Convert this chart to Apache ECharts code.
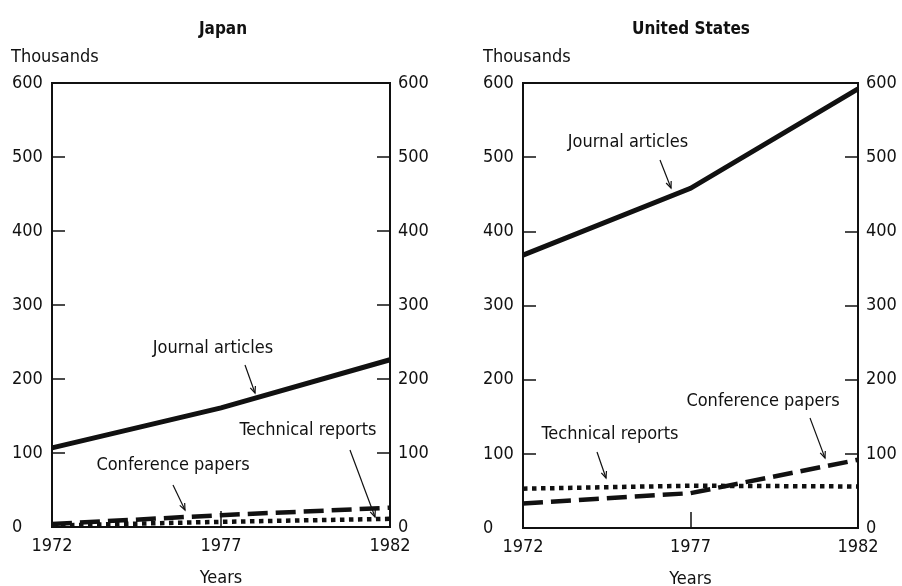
<!DOCTYPE html>
<html>
<head>
<meta charset="utf-8">
<script src="https://cdn.jsdelivr.net/npm/echarts@6/dist/echarts.min.js"></script>
<style>
  html, body { margin: 0; padding: 0; background: #fff; }
  #chart { width: 902px; height: 586px; }
</style>
</head>
<body>
<div id="chart"></div>
<script>
// Publications by type, in thousands
const years = [1972, 1977, 1982];
const yearTicks = [1972, 1977, 1982];

const japanJournal = [107, 161, 226];
const japanConference = [4, 16, 26];
const japanTechnical = [2, 7, 11];

const usJournal = [368, 458, 592];
const usConference = [33, 47, 92];
const usTechnical = [53, 57, 56];

const panelTitles = ['Japan', 'United States'];
const unitLabel = 'Thousands';
const xName = 'Years';

const FONT = '"Liberation Sans Narrow", "DejaVu Sans Condensed", "Roboto Condensed", sans-serif';
const INK = '#111';

const pairs = (vals) => years.map((y, i) => [y, vals[i]]);

const grids = [
  { left: 52, right: 512, top: 83, bottom: 59 },
  { left: 523, right: 44, top: 83, bottom: 58 }
];

function xAxisFor(idx) {
  return {
    type: 'value', gridIndex: idx, min: 1972, max: 1982,
    name: xName, nameLocation: 'middle', nameGap: 42,
    nameTextStyle: { fontFamily: FONT, fontSize: 18, color: INK },
    axisLine: { show: true, lineStyle: { color: INK, width: 2 } },
    axisTick: { show: true, inside: true, length: 16, customValues: yearTicks, lineStyle: { color: INK, width: 1.5 } },
    axisLabel: {
      customValues: yearTicks, fontFamily: FONT, fontSize: 18, color: INK, margin: 10,
      formatter: (v) => String(v)
    },
    splitLine: { show: false }
  };
}

function yAxisFor(idx, side) {
  const left = side === 'left';
  return {
    type: 'value', gridIndex: idx, position: side, min: 0, max: 600, interval: 100,
    axisLine: { show: true, lineStyle: { color: INK, width: 2 } },
    axisTick: { show: true, inside: true, length: 13, lineStyle: { color: INK, width: 1.5 } },
    axisLabel: {
      fontFamily: FONT, fontSize: 18, color: INK,
      align: 'left', margin: left ? 40 : 8
    },
    splitLine: { show: false }
  };
}

function lineSeries(name, idx, vals, kind) {
  const style = { color: INK, width: 5, cap: 'butt', join: 'miter' };
  if (kind === 'dash') { style.type = [20, 8]; style.width = 4.5; }
  if (kind === 'dot') { style.type = [4.5, 4.5]; style.width = 4.5; }
  return {
    name, type: 'line', xAxisIndex: idx, yAxisIndex: idx * 2,
    data: pairs(vals), symbol: 'none', lineStyle: style,
    animation: false, silent: true
  };
}

// Label placements and pointer arrows for each panel
const notes = [
  { text: 'Journal articles',  x: 213, y: 348, from: [245, 365], to: [255, 393] },
  { text: 'Conference papers', x: 173, y: 465, from: [173, 485], to: [185, 510] },
  { text: 'Technical reports', x: 308, y: 430, from: [350, 450], to: [375, 517] },
  { text: 'Journal articles',  x: 628, y: 142, from: [660, 160], to: [671, 188] },
  { text: 'Technical reports', x: 610, y: 434, from: [597, 452], to: [606, 478] },
  { text: 'Conference papers', x: 763, y: 401, from: [810, 418], to: [825, 458] }
];

function arrow(n) {
  const [x1, y1] = n.from, [x2, y2] = n.to;
  const a = Math.atan2(y2 - y1, x2 - x1);
  const h = 7, w = 0.4;
  return [
    { type: 'line', shape: { x1, y1, x2, y2 }, style: { stroke: INK, lineWidth: 1.2 }, silent: true },
    { type: 'polyline', shape: { points: [
        [x2 - h * Math.cos(a - w), y2 - h * Math.sin(a - w)],
        [x2, y2],
        [x2 - h * Math.cos(a + w), y2 - h * Math.sin(a + w)]
      ] }, style: { stroke: INK, lineWidth: 1.2, fill: null }, silent: true }
  ];
}

const graphics = [];
notes.forEach(n => {
  graphics.push({ type: 'text', x: n.x, y: n.y, style: {
    text: n.text, fontFamily: FONT, fontSize: 18, fill: INK,
    textAlign: 'center', textVerticalAlign: 'middle' }, silent: true });
  graphics.push(...arrow(n));
});
[[11, 48], [483, 48]].forEach(([x, y]) => {
  graphics.push({ type: 'text', x, y, style: {
    text: unitLabel, fontFamily: FONT, fontSize: 18, fill: INK, textVerticalAlign: 'top' }, silent: true });
});

const chart = echarts.init(document.getElementById('chart'), null, { renderer: 'canvas' });
chart.setOption({
  animation: false,
  backgroundColor: '#fff',
  title: [
    { text: panelTitles[0], left: 218, top: 16, textAlign: 'center',
      textStyle: { fontFamily: FONT, fontSize: 17, fontWeight: 'bold', color: INK } },
    { text: panelTitles[1], left: 686, top: 16, textAlign: 'center',
      textStyle: { fontFamily: FONT, fontSize: 17, fontWeight: 'bold', color: INK } }
  ],
  grid: grids.map(g => Object.assign({
    show: true, borderColor: INK, borderWidth: 2, backgroundColor: 'transparent',
    containLabel: false, outerBoundsMode: 'none'
  }, g)),
  xAxis: [xAxisFor(0), xAxisFor(1)],
  yAxis: [yAxisFor(0, 'left'), yAxisFor(0, 'right'), yAxisFor(1, 'left'), yAxisFor(1, 'right')],
  series: [
    lineSeries('Journal articles', 0, japanJournal, 'solid'),
    lineSeries('Conference papers', 0, japanConference, 'dash'),
    lineSeries('Technical reports', 0, japanTechnical, 'dot'),
    lineSeries('Journal articles', 1, usJournal, 'solid'),
    lineSeries('Conference papers', 1, usConference, 'dash'),
    lineSeries('Technical reports', 1, usTechnical, 'dot')
  ],
  graphic: graphics
});
</script>
</body>
</html>
